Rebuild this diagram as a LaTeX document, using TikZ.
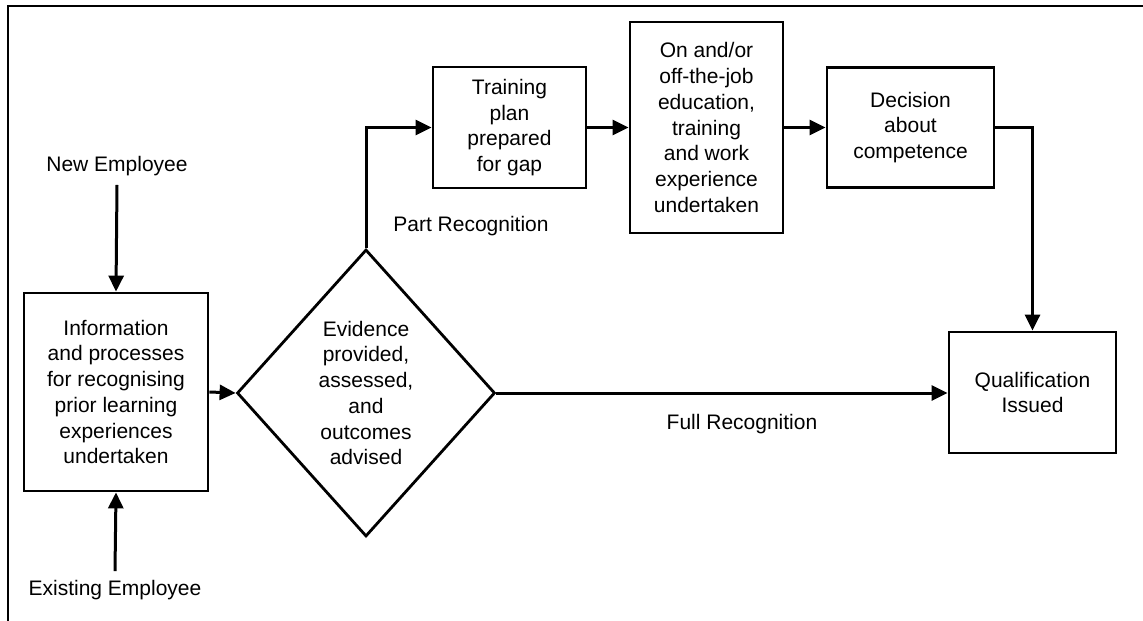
\documentclass[tikz,border=0pt]{standalone}
\usepackage{fontspec}
\setmainfont{Liberation Sans}
\usetikzlibrary{arrows.meta,shapes.geometric}
\begin{document}
\begin{tikzpicture}[x=1pt,y=-1pt,
  every node/.style={font=\fontsize{21pt}{25.7pt}\selectfont},
  box/.style={draw,line width=2.8pt,align=center,inner sep=0pt},
  lbl/.style={inner sep=9pt},
  conn/.style={line width=3pt,-{Triangle[length=16pt,width=15pt]}},
  joinline/.style={line width=3pt}]
\useasboundingbox (0,0) rectangle (1143,621);
\fill[white] (0,0) rectangle (1143,621);
\draw[line width=1.5pt] (8,621) -- (8,6) -- (1143,6);

\node[box,minimum width=184pt,minimum height=198pt] (info) at (116,392)
  {Information\\and processes\\for recognising\\prior learning\\experiences\\undertaken};
\node[box,shape=diamond,minimum width=258pt,minimum height=287pt] (dia) at (366,393)
  {Evidence\\provided,\\assessed,\\and\\outcomes\\advised};
\node[box,minimum width=153pt,minimum height=121pt] (train) at (509.5,127.5)
  {Training\\plan\\prepared\\for gap};
\node[box,minimum width=153pt,minimum height=211pt] (onjob) at (706.5,127.5)
  {On and/or\\off-the-job\\education,\\training\\and work\\experience\\undertaken};
\node[box,minimum width=167pt,minimum height=120pt] (dec) at (910.5,127.5)
  {Decision\\about\\competence};
\node[box,minimum width=167pt,minimum height=121pt] (qual) at (1032.5,392.5)
  {Qualification\\Issued};

\node[lbl] (newemp) at (117,166) {New Employee};
\node[lbl] (exemp) at (115,590) {Existing Employee};
\node (partlbl) at (471,226) {Part Recognition};
\node (fulllbl) at (742,424) {Full Recognition};

\draw[conn] (newemp.south) -- (info.north);
\draw[conn] (exemp.north) -- (info.south);
\draw[conn] (info.east) -- (dia.west);
\draw[conn] (dia.north) |- (train.west);
\draw[conn] (train.east) -- (onjob.west |- train.east);
\draw[conn] (onjob.east |- dec.west) -- (dec.west);
\draw[conn] (dec.east) -| (qual.north);
\draw[conn] (dia.east) -- (dia.east -| qual.west);
\end{tikzpicture}
\end{document}
